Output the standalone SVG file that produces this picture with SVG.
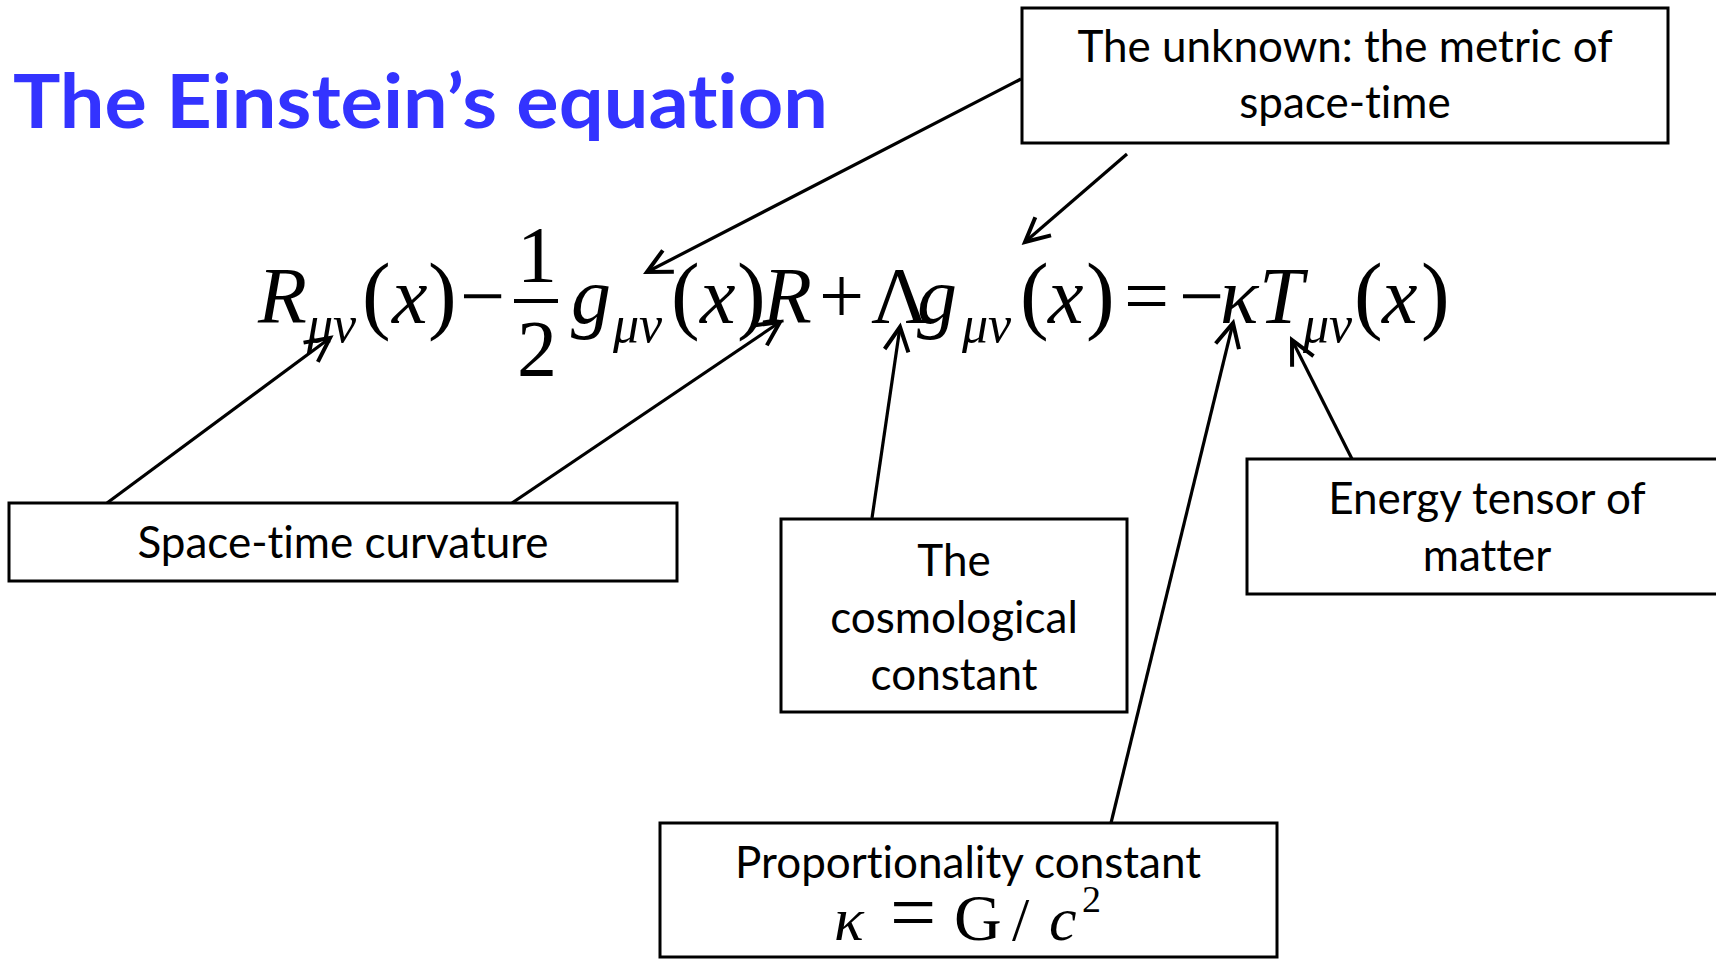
<svg xmlns="http://www.w3.org/2000/svg" width="1716" height="959" viewBox="0 0 1716 959">
<style>
.box{fill:#fff;stroke:#000;stroke-width:3}
.lbl{font-family:Lato,"Open Sans","Liberation Sans",sans-serif;font-size:44px;fill:#000;text-anchor:middle;font-variant-ligatures:none;font-feature-settings:"liga" 0,"clig" 0}
.eq{font-family:"Liberation Serif","Times New Roman",serif;font-size:80px;fill:#000}
.it{font-style:italic}
.sub{font-size:52px;font-style:italic}
.par{font-size:86px}
.frm{font-family:"Liberation Serif","Times New Roman",serif;font-size:62px;fill:#000}
.big{font-size:82px}
.gg{font-size:66px}
.sup{font-size:38px}
.conn line{stroke:#000;stroke-width:3.2;marker-end:url(#ah)}
</style>
<defs>
<marker id="ah" markerUnits="userSpaceOnUse" markerWidth="40" markerHeight="40" viewBox="-30 -20 40 40" refX="0" refY="0" orient="auto">
<path d="M-24,-12 L0,0 L-24,12" fill="none" stroke="#000" stroke-width="4"/>
</marker>
</defs>
<rect width="1716" height="959" fill="#fff"/>
<text id="title" x="13" y="128" font-family="Lato,'Open Sans','Liberation Sans',sans-serif" font-weight="700" font-size="75" fill="#3333FF" textLength="815" lengthAdjust="spacingAndGlyphs" style="font-variant-ligatures:none">The Einstein’s equation</text>

<g id="equation">
<text class="eq"><tspan class="it" x="258" y="323">R</tspan><tspan class="sub" x="307" y="342">μν</tspan><tspan class="par" x="362" y="323">(</tspan><tspan class="it" x="392" y="323">x</tspan><tspan class="par" x="428" y="323">)</tspan><tspan x="460" y="323">−</tspan><tspan x="517" y="282">1</tspan><tspan x="517" y="376">2</tspan><tspan class="it" x="571" y="323">g</tspan><tspan class="sub" x="613" y="342">μν</tspan><tspan class="par" x="671" y="323">(</tspan><tspan class="it" x="700" y="323">x</tspan><tspan class="par" x="737" y="323">)</tspan><tspan class="it" x="763" y="323">R</tspan><tspan x="819" y="323">+</tspan><tspan x="871" y="323">Λ</tspan><tspan class="it" x="917" y="323">g</tspan><tspan class="sub" x="962" y="342">μν</tspan><tspan class="par" x="1020" y="323">(</tspan><tspan class="it" x="1048" y="323">x</tspan><tspan class="par" x="1086" y="323">)</tspan><tspan x="1124" y="323">=</tspan><tspan x="1179" y="323">−</tspan><tspan class="it" x="1220" y="323">κ</tspan><tspan class="it" x="1259" y="323">T</tspan><tspan class="sub" x="1303" y="342">μν</tspan><tspan class="par" x="1354" y="323">(</tspan><tspan class="it" x="1382" y="323">x</tspan><tspan class="par" x="1421" y="323">)</tspan></text>
<line x1="514" y1="301" x2="558" y2="301" stroke="#000" stroke-width="4"/>
</g>

<g class="conn" id="connectors">
<line x1="1021" y1="79" x2="647" y2="272"/>
<line x1="1127" y1="154" x2="1025" y2="242"/>
<line x1="107" y1="503" x2="330" y2="338"/>
<line x1="512" y1="503" x2="780" y2="322"/>
<line x1="872" y1="518" x2="900" y2="327"/>
<line x1="1111" y1="823" x2="1233" y2="323"/>
<line x1="1352" y1="459" x2="1292" y2="340"/>
</g>

<g id="unknown">
<rect class="box" x="1022" y="8" width="646" height="135"/>
<text class="lbl" x="1345" y="62">The unknown: the metric of</text>
<text class="lbl" x="1345" y="118">space-time</text>
</g>

<g id="curvature">
<rect class="box" x="9" y="503" width="668" height="78"/>
<text class="lbl" x="343" y="558">Space-time curvature</text>
</g>

<g id="cosmological">
<rect class="box" x="781" y="519" width="346" height="193"/>
<text class="lbl" x="954" y="576">The</text>
<text class="lbl" x="954" y="633">cosmological</text>
<text class="lbl" x="954" y="690">constant</text>
</g>

<g id="energy">
<rect class="box" x="1247" y="459" width="480" height="135"/>
<text class="lbl" x="1487" y="514">Energy tensor of</text>
<text class="lbl" x="1487" y="571">matter</text>
</g>

<g id="proportionality">
<rect class="box" x="660" y="823" width="617" height="134"/>
<text class="lbl" x="968" y="878">Proportionality constant</text>
<text class="frm"><tspan class="it" x="834" y="940">κ</tspan><tspan class="big" x="890" y="940">=</tspan><tspan class="gg" x="954" y="940">G</tspan><tspan x="1012" y="940">/</tspan><tspan class="it" x="1049" y="940">c</tspan><tspan class="sup" x="1082" y="912">2</tspan></text>
</g>
</svg>
